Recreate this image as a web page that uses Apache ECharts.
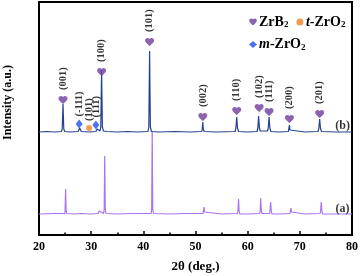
<!DOCTYPE html>
<html><head><meta charset="utf-8">
<script src="https://cdn.jsdelivr.net/npm/echarts@6/dist/echarts.min.js"></script>
<style>html,body{margin:0;padding:0;background:#fff}#c{width:360px;height:276px}</style>
</head><body><div id="c"></div>
<script>
// x range & ticks
const xTicks = [20, 30, 40, 50, 60, 70, 80];

// Pattern (b): 2θ, intensity (offset trace)
const seriesB = [[20,103],[21.5,103.5],[23,103],[24.3,103.5],[24.45,106],[24.6,131],[24.75,106],[24.95,103.5],[26,103],[27.5,103.5],[27.7,105],[27.8,107],[27.9,105],[28.1,103.5],[29.6,103],[29.8,104.5],[29.9,103.5],[30.9,103.5],[31.05,105],[31.15,106],[31.25,104.5],[31.7,104],[31.85,108],[32.0,165],[32.15,108],[32.35,104],[33,103.5],[35,103],[37,103.5],[39,103],[40.9,103.5],[41.05,108],[41.2,184],[41.35,108],[41.55,103.5],[43,103],[46,103.5],[49,103],[51.2,103.5],[51.3,106],[51.4,113],[51.5,106],[51.65,103.5],[54,103],[57.6,103.5],[57.75,107],[57.9,118],[58.05,107],[58.25,103.5],[60,103],[61.8,103.5],[61.95,107],[62.1,119],[62.25,107],[62.4,104],[63.8,104],[63.95,107],[64.1,118],[64.25,107],[64.45,103.5],[66,103],[67.8,103.5],[67.9,105],[68.0,110],[68.1,105],[68.3,103.5],[71,103],[73.5,103.5],[73.65,107],[73.8,116],[73.95,107],[74.15,103.5],[77,103],[80,103]];

// Pattern (a)
const seriesA = [[20,21],[23,21.5],[24.95,21.5],[25.0,24],[25.1,46],[25.2,24],[25.3,21.5],[27,21],[28.0,21.5],[28.15,23.5],[28.25,22],[30,21],[31.35,21.5],[31.5,24],[31.6,22],[32.4,21.5],[32.5,26],[32.6,79],[32.7,26],[32.85,21.5],[35,21],[38,21.5],[41.5,21.5],[41.6,26],[41.7,104],[41.8,26],[41.95,21.5],[45,21],[48,21.5],[51.45,21.5],[51.55,23],[51.65,28],[51.75,23],[51.9,21],[55,21],[58.05,21.5],[58.15,25],[58.25,36],[58.35,25],[58.5,21],[60,21],[62.3,21.5],[62.4,25],[62.5,37],[62.6,25],[62.75,21.5],[64.2,21.5],[64.3,25],[64.4,33],[64.5,25],[64.65,21],[66,21],[68.1,21.5],[68.2,23],[68.3,27],[68.4,23],[68.6,21],[71,21],[73.9,21.5],[74.0,25],[74.1,33],[74.2,25],[74.35,21],[77,21],[80,21]];

// Phase markers: [2θ, marker height, hkl]
const zrb2Peaks = [[24.6,135,'(001)'],[32.0,163,'(100)'],[41.2,193,'(101)'],[51.4,118,'(002)'],[57.9,124,'(110)'],[62.2,127,'(102)'],[64.1,123,'(111)'],[68.0,116,'(200)'],[73.8,121,'(201)']];
const tZrO2Peaks = [[29.6,107,'(101)']];
const mZrO2Peaks = [[27.7,111,'(-111)'],[30.9,110,'(111)']];

// Trace labels
const traceLabels = [[78.2,26,'(a)'],[78.2,109,'(b)']];

const heart = 'path://M12 21.35l-1.45-1.32C5.4 15.36 2 12.28 2 8.5 2 5.42 4.42 3 7.5 3c1.74 0 3.41.81 4.5 2.09C13.09 3.81 14.76 3 16.5 3 19.58 3 22 5.42 22 8.5c0 3.78-3.4 6.86-8.55 11.54L12 21.35z';
const FONT = 'Liberation Serif';

function peakLabel(d){
  return {show:true, position:'top', distance:d, rotate:90, align:'left', verticalAlign:'middle',
    formatter:p=>p.data[2], fontFamily:FONT, fontWeight:'bold', fontSize:10.5, color:'#000'};
}

const chart = echarts.init(document.getElementById('c'), null, {renderer:'canvas'});
chart.setOption({
  animation:false,
  grid:{left:39, right:8, top:2, bottom:41, outerBoundsMode:'none', containLabel:false, show:true, borderColor:'#000', borderWidth:2},
  legend:{
    left:244, top:10, width:115, itemGap:8, itemWidth:8, itemHeight:7,
    data:[{name:'ZrB2', icon:heart},{name:'t-ZrO2', icon:'circle'},{name:'m-ZrO2', icon:'diamond'}],
    formatter:function(n){
      if(n==='ZrB2') return '{n|ZrB}{s|2}';
      if(n==='t-ZrO2') return '{i|t}{n|-ZrO}{s|2}';
      return '{i|m}{n|-ZrO}{s|2}';
    },
    textStyle:{padding:[0,0,0,-3], rich:{
      n:{fontFamily:FONT, fontWeight:'bold', fontSize:14, color:'#000'},
      i:{fontFamily:FONT, fontWeight:'bold', fontStyle:'italic', fontSize:14, color:'#000'},
      s:{fontFamily:FONT, fontWeight:'bold', fontSize:9, color:'#000', verticalAlign:'bottom', padding:[6,0,0,0]}
    }}
  },
  xAxis:{
    type:'value', min:xTicks[0], max:xTicks[xTicks.length-1], interval:10,
    name:'2θ (deg.)', nameLocation:'middle', nameGap:25,
    nameTextStyle:{fontFamily:FONT, fontWeight:'bold', fontSize:13, color:'#000'},
    axisLine:{lineStyle:{color:'#000', width:2}},
    axisTick:{inside:true, length:4, lineStyle:{color:'#000', width:1.5}},
    minorTick:{show:true, splitNumber:2, length:2.5, lineStyle:{color:'#000', width:1.5}},
    axisLabel:{margin:6, fontFamily:FONT, fontWeight:'bold', fontSize:12, color:'#000'},
    splitLine:{show:false}
  },
  yAxis:{
    type:'value', min:0, max:233,
    name:'Intensity (a.u.)', nameLocation:'middle', nameGap:25, nameRotate:90,
    nameTextStyle:{fontFamily:FONT, fontWeight:'bold', fontSize:12, color:'#000', padding:[0,0,0,32]},
    axisLine:{show:true, lineStyle:{color:'#000', width:2}},
    axisTick:{show:false}, axisLabel:{show:false}, splitLine:{show:false}
  },
  series:[
    {type:'line', name:'(a)', data:seriesA, symbol:'none', lineStyle:{color:'#a874f6', width:1.2}, z:2},
    {type:'line', name:'(b)', data:seriesB, symbol:'none', lineStyle:{color:'#27418f', width:1.2}, z:3},
    {type:'scatter', name:'ZrB2', data:zrb2Peaks, symbol:heart, symbolSize:[9,8], itemStyle:{color:'#6e3c9c'}, label:peakLabel(6), z:5},
    {type:'scatter', name:'t-ZrO2', data:tZrO2Peaks, symbol:'circle', symbolSize:6, itemStyle:{color:'#ee8424'}, label:peakLabel(4), z:5},
    {type:'scatter', name:'m-ZrO2', data:mZrO2Peaks, symbol:'diamond', symbolSize:[7,9], itemStyle:{color:'#1e50ef'}, label:peakLabel(3), z:5},
    {type:'scatter', name:'labels', data:traceLabels, symbolSize:0, silent:true,
      label:{show:true, position:'inside', formatter:p=>p.data[2], fontFamily:FONT, fontWeight:'bold', fontSize:12, color:'#000'}, z:6}
  ]
});
</script></body></html>
